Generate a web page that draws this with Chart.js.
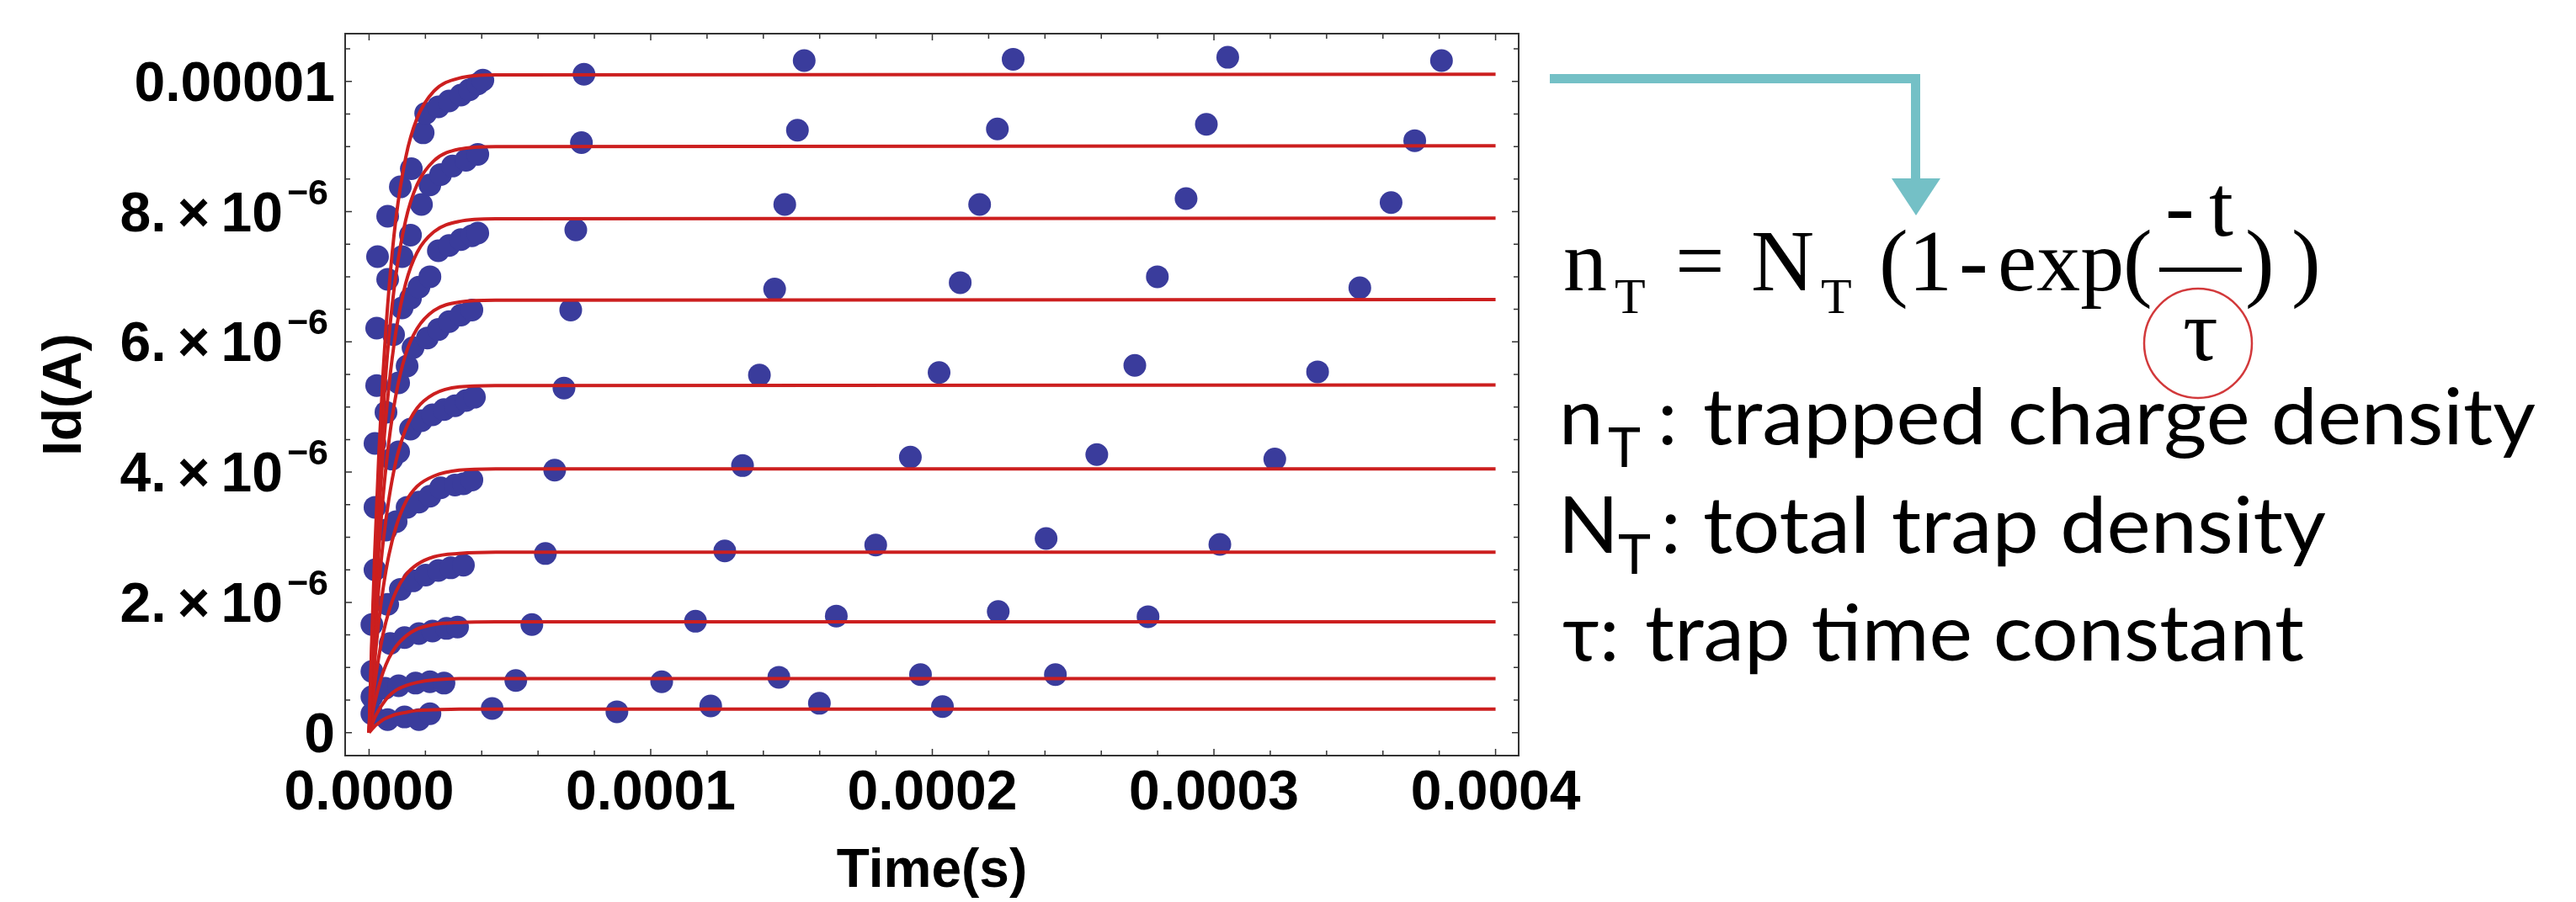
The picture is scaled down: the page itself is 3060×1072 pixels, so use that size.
<!DOCTYPE html>
<html>
<head>
<meta charset="utf-8">
<title>Id(A) vs Time(s)</title>
<script src="https://cdn.jsdelivr.net/npm/chart.js@4.4.0/dist/chart.umd.min.js"></script>
<style>
  html, body { margin: 0; padding: 0; background: #fff; }
  body { width: 3060px; height: 1072px; position: relative; overflow: hidden; }
  #plot { position: absolute; left: 0; top: 0; width: 1900px; height: 1072px; }
  #notes { position: absolute; left: 0; top: 0; }
</style>
</head>
<body>
<div id="plot"><canvas id="chart"></canvas></div>

<svg id="notes" width="3060" height="1072" viewBox="0 0 3060 1072">
  <!-- arrow from the top level to the formula -->
  <g fill="#74c0c6">
    <rect x="1841" y="88" width="440" height="11"/>
    <rect x="2270" y="88" width="11" height="125"/>
    <polygon points="2247,212 2305,212 2276,256"/>
  </g>
  <!-- n_T = N_T (1 - exp(-t / tau)) -->
  <g font-family="'Liberation Serif', 'Times New Roman', serif" font-size="104" fill="#000">
    <text x="1857" y="345">n</text>
    <text x="1918" y="372" font-size="60">T</text>
    <text x="1990" y="345">=</text>
    <text x="2080" y="345">N</text>
    <text x="2163" y="372" font-size="60">T</text>
    <text x="2232" y="345">(</text>
    <text x="2267" y="345">1</text>
    <text x="2327" y="345">-</text>
    <text x="2373" y="345">exp</text>
    <text x="2522" y="345">(</text>
    <text x="2572" y="280">-</text>
    <text x="2624" y="280">t</text>
    <text x="2593" y="428">τ</text>
    <text x="2667" y="345">)</text>
    <text x="2722" y="345">)</text>
  </g>
  <rect x="2565" y="318" width="98" height="5" fill="#000"/>
  <ellipse cx="2611" cy="408" rx="64" ry="65" fill="none" stroke="#d2393b" stroke-width="2.5"/>
  <!-- legend of the symbols -->
  <g font-family="Lato, 'Open Sans', sans-serif" font-size="94" fill="#000">
    <text x="1852" y="528">n</text>
    <text x="1910" y="555" font-size="66">T</text>
    <text x="1969" y="528">:</text>
    <text x="2023" y="528" textLength="989" lengthAdjust="spacingAndGlyphs">trapped charge density</text>
    <text x="1851" y="657">N</text>
    <text x="1922" y="682" font-size="66">T</text>
    <text x="1973" y="657">:</text>
    <text x="2023" y="657" textLength="740" lengthAdjust="spacingAndGlyphs">total trap density</text>
    <text x="1856" y="785">τ:</text>
    <text x="1954" y="785" textLength="783" lengthAdjust="spacingAndGlyphs">trap time constant</text>
  </g>
</svg>

<script>
// time in microseconds, drain current in microamps
const fitTimeUs = [0, 1, 2, 3.5, 5, 7, 9.5, 13, 17, 23, 32, 45, 400];
const fitCurrentUA = [
  [0, 1.49, 2.75, 4.31, 5.54, 6.78, 7.88, 8.83, 9.43, 9.85, 10.05, 10.10, 10.11],
  [0, 1.32, 2.45, 3.84, 4.94, 6.05, 7.02, 7.87, 8.41, 8.78, 8.96, 9.00, 9.01],
  [0, 1.16, 2.15, 3.37, 4.33, 5.30, 6.15, 6.90, 7.37, 7.69, 7.85, 7.89, 7.90],
  [0, 0.98, 1.81, 2.83, 3.64, 4.46, 5.18, 5.81, 6.20, 6.48, 6.61, 6.64, 6.65],
  [0, 0.78, 1.45, 2.27, 2.93, 3.58, 4.16, 4.66, 4.98, 5.20, 5.31, 5.33, 5.34],
  [0, 0.60, 1.10, 1.73, 2.22, 2.72, 3.15, 3.54, 3.78, 3.94, 4.03, 4.05, 4.05],
  [0, 0.41, 0.75, 1.18, 1.52, 1.86, 2.16, 2.42, 2.58, 2.70, 2.75, 2.77, 2.77],
  [0, 0.25, 0.46, 0.72, 0.93, 1.14, 1.32, 1.48, 1.59, 1.66, 1.69, 1.70, 1.70],
  [0, 0.12, 0.23, 0.35, 0.45, 0.56, 0.65, 0.72, 0.77, 0.81, 0.83, 0.83, 0.83],
  [0, 0.05, 0.10, 0.15, 0.20, 0.24, 0.28, 0.31, 0.34, 0.35, 0.36, 0.36, 0.36]
];

const dotTimeUs = [
  [3.0, 6.6, 11.1, 15.0, 19.2, 20.1, 24.6, 28.4, 32.6, 35.6, 38.6, 40.4, 76.3, 154.5, 228.7, 304.9, 380.8],
  [2.7, 6.6, 11.7, 14.7, 18.6, 21.6, 25.4, 29.6, 34.4, 38.6, 75.4, 152.1, 223.1, 297.3, 371.3],
  [2.7, 8.7, 11.7, 14.7, 17.7, 21.6, 24.6, 28.4, 32.6, 36.5, 38.6, 73.4, 147.6, 216.8, 290.1, 362.9],
  [2.1, 6.0, 10.5, 13.5, 15.6, 20.7, 24.6, 28.4, 32.6, 36.5, 71.6, 144.0, 209.9, 279.9, 351.8],
  [2.1, 8.1, 10.5, 14.7, 18.6, 22.5, 26.6, 30.5, 34.4, 37.4, 69.2, 138.6, 202.4, 271.9, 336.8],
  [2.1, 6.0, 9.6, 13.5, 17.7, 21.6, 25.4, 30.5, 33.5, 36.5, 65.9, 132.6, 192.2, 258.4, 321.6],
  [1.0, 6.6, 11.1, 15.6, 20.1, 24.6, 29.0, 33.5, 62.6, 126.3, 179.9, 240.4, 302.1],
  [1.0, 7.5, 12.6, 17.7, 22.5, 27.5, 31.4, 57.8, 115.9, 165.9, 223.4, 276.6],
  [1.0, 5.7, 10.5, 16.5, 21.6, 26.6, 52.1, 103.9, 145.5, 195.8, 243.7],
  [1.0, 6.6, 12.6, 17.7, 21.6, 43.7, 88.0, 121.3, 159.9, 203.6]
];
const dotCurrentUA = [
  [7.31, 7.93, 8.38, 8.66, 9.21, 9.51, 9.61, 9.70, 9.79, 9.87, 9.96, 10.02, 10.11, 10.32, 10.34, 10.37, 10.32],
  [6.21, 6.96, 7.31, 7.64, 8.11, 8.41, 8.57, 8.70, 8.79, 8.88, 9.06, 9.25, 9.27, 9.34, 9.09],
  [5.33, 6.11, 6.52, 6.67, 6.84, 7.00, 7.40, 7.48, 7.57, 7.63, 7.67, 7.72, 8.11, 8.11, 8.20, 8.14],
  [4.44, 4.92, 5.37, 5.63, 5.91, 6.06, 6.19, 6.31, 6.41, 6.49, 6.49, 6.81, 6.91, 7.00, 6.83],
  [3.46, 4.20, 4.31, 4.66, 4.79, 4.88, 4.96, 5.02, 5.10, 5.15, 5.29, 5.49, 5.53, 5.64, 5.54],
  [2.50, 3.11, 3.24, 3.46, 3.54, 3.63, 3.76, 3.80, 3.82, 3.88, 4.03, 4.10, 4.23, 4.27, 4.20],
  [1.66, 1.97, 2.20, 2.33, 2.42, 2.49, 2.53, 2.57, 2.75, 2.79, 2.88, 2.98, 2.89],
  [0.94, 1.37, 1.46, 1.52, 1.56, 1.60, 1.62, 1.66, 1.71, 1.79, 1.86, 1.78],
  [0.55, 0.68, 0.72, 0.76, 0.78, 0.76, 0.80, 0.78, 0.85, 0.89, 0.89],
  [0.29, 0.20, 0.24, 0.20, 0.29, 0.37, 0.32, 0.41, 0.45, 0.40]
];

const xTickValues = [0, 100, 200, 300, 400];
const xTickLabels = ["0.0000", "0.0001", "0.0002", "0.0003", "0.0004"];
const yTickValues = [0, 2, 4, 6, 8, 10];
const yTickLabels = ["0", "2.\u2009×\u200910", "4.\u2009×\u200910", "6.\u2009×\u200910", "8.\u2009×\u200910", "0.00001"];
const yTickExponents = ["", "−6", "−6", "−6", "−6", ""];

const datasets = [];
fitCurrentUA.forEach((vals, k) => {
  datasets.push({
    label: "fit " + (k + 1),
    data: fitTimeUs.map((t, i) => ({ x: t, y: vals[i] })),
    showLine: true,
    pointRadius: 0,
    borderColor: "#cc1f1f",
    borderWidth: 4,
    cubicInterpolationMode: "monotone",
    order: 0
  });
});
dotTimeUs.forEach((times, k) => {
  datasets.push({
    label: "Id " + (k + 1),
    data: times.map((t, i) => ({ x: t, y: dotCurrentUA[k][i] })),
    showLine: false,
    pointRadius: 13.5,
    backgroundColor: "#3a3c9c",
    borderWidth: 0,
    order: 1
  });
});

// Mathematica style frame with inward ticks, and y labels with exponents
const framePlugin = {
  id: "frame",
  afterDraw(chart) {
    const { ctx, chartArea: a, scales: { x, y } } = chart;
    ctx.save();
    ctx.strokeStyle = "#333";
    ctx.lineWidth = 2;
    ctx.strokeRect(a.left, a.top, a.right - a.left, a.bottom - a.top);

    ctx.lineWidth = 1.5;
    ctx.beginPath();
    for (let v = 0; v <= 400; v += 20) {
      const px = x.getPixelForValue(v);
      const len = v % 100 === 0 ? 8 : 6;
      ctx.moveTo(px, a.bottom); ctx.lineTo(px, a.bottom - len);
      ctx.moveTo(px, a.top); ctx.lineTo(px, a.top + len);
    }
    for (let v = 0; v <= 10.5; v += 0.5) {
      const py = y.getPixelForValue(v);
      const len = v % 2 === 0 ? 8 : 6;
      ctx.moveTo(a.left, py); ctx.lineTo(a.left + len, py);
      ctx.moveTo(a.right, py); ctx.lineTo(a.right - len, py);
    }
    ctx.stroke();

    ctx.fillStyle = "#000";
    ctx.textBaseline = "alphabetic";
    yTickValues.forEach((v, i) => {
      const py = y.getPixelForValue(v);
      ctx.font = 'bold 66px "Liberation Sans"';
      ctx.textAlign = "right";
      if (yTickExponents[i]) {
        ctx.fillText(yTickLabels[i], 336, py + 23);
        ctx.font = 'bold 43px "Liberation Sans"';
        ctx.textAlign = "left";
        ctx.fillText(yTickExponents[i], 341, py - 9);
      } else {
        ctx.fillText(yTickLabels[i], 398, py + 23);
      }
    });
    ctx.restore();
  }
};

Chart.defaults.font.family = "Liberation Sans";

new Chart(document.getElementById("chart"), {
  type: "scatter",
  data: { datasets },
  options: {
    animation: false,
    responsive: true,
    maintainAspectRatio: false,
    events: [],
    layout: { padding: { left: 0, top: 40, right: 96, bottom: 0 } },
    plugins: { legend: { display: false }, tooltip: { enabled: false } },
    scales: {
      x: {
        type: "linear",
        min: -8.5,
        max: 408.2,
        afterBuildTicks: (s) => { s.ticks = xTickValues.map((v) => ({ value: v })); },
        afterFit: (s) => { s.height = 174; },
        grid: { display: false, drawTicks: false },
        border: { display: false },
        ticks: {
          callback: (v, i) => xTickLabels[i],
          color: "#000",
          padding: 6,
          maxRotation: 0,
          autoSkip: false,
          font: { size: 66, weight: "bold" }
        },
        title: {
          display: true,
          text: "Time(s)",
          color: "#000",
          font: { size: 64, weight: "bold", lineHeight: 1 },
          padding: { top: 0, bottom: 4 }
        }
      },
      y: {
        type: "linear",
        min: -0.353,
        max: 10.733,
        afterBuildTicks: (s) => { s.ticks = yTickValues.map((v) => ({ value: v })); },
        afterFit: (s) => { s.width = 410; },
        grid: { display: false, drawTicks: false },
        border: { display: false },
        ticks: { display: false },
        title: {
          display: true,
          text: "Id(A)",
          color: "#000",
          font: { size: 64, weight: "bold", lineHeight: 1 },
          padding: { top: 46, bottom: 0 }
        }
      }
    }
  },
  plugins: [framePlugin]
});
</script>
</body>
</html>
